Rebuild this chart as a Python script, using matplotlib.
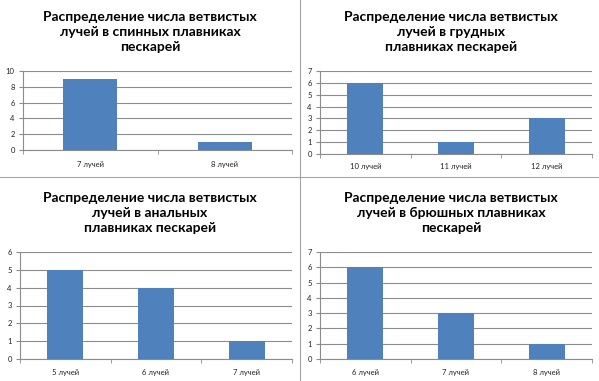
import matplotlib
matplotlib.use('Agg')
import matplotlib.pyplot as plt
import numpy as np

plt.rcParams['font.family'] = ['Lato', 'DejaVu Sans']

# data
title_top = 'Распределение числа ветвистых'
titles = [
    title_top + '\nлучей в спинных плавниках\nпескарей',
    title_top + '\nлучей в грудных\nплавниках пескарей',
    title_top + '\nлучей в анальных\nплавниках пескарей',
    title_top + '\nлучей в брюшных плавниках\nпескарей',
]
cats_dorsal = ['7 лучей', '8 лучей']
vals_dorsal = [9, 1]
cats_pectoral = ['10 лучей', '11 лучей', '12 лучей']
vals_pectoral = [6, 1, 3]
cats_anal = ['5 лучей', '6 лучей', '7 лучей']
vals_anal = [5, 4, 1]
cats_ventral = ['6 лучей', '7 лучей', '8 лучей']
vals_ventral = [6, 3, 1]

ymax = [10, 7, 6, 7]
ystep = [2, 1, 1, 1]

W, H = 599, 381
fig = plt.figure(figsize=(W / 100, H / 100), dpi=100)
fig.patch.set_facecolor('white')

def px_axes(left, right, top, bottom):
    return fig.add_axes([left / W, 1 - bottom / H, (right - left) / W, (bottom - top) / H])

# pixel boxes: left, right, top, bottom; title centre; category label y
layout = [
    ((23, 292, 71, 150), (150, 32), 164),
    ((320, 592, 71, 154), (451, 32), 167),
    ((20, 292, 252, 359), (150, 213), 373),
    ((320, 592, 252, 359), (451, 213), 373),
]
datasets = [(cats_dorsal, vals_dorsal), (cats_pectoral, vals_pectoral),
            (cats_anal, vals_anal), (cats_ventral, vals_ventral)]

bar_color = '#4F81BD'
grid_color = '#8C8C8C'

for i, ((cats, vals), (box, tpos, laby)) in enumerate(zip(datasets, layout)):
    ax = px_axes(*box)
    x = np.arange(len(cats))
    ax.bar(x, vals, width=0.4, color=bar_color, zorder=3)
    ax.set_xlim(-0.5, len(cats) - 0.5)
    ax.set_ylim(0, ymax[i])
    ax.set_yticks(np.arange(0, ymax[i] + 0.1, ystep[i]))
    ax.yaxis.grid(True, color=grid_color, lw=0.8)
    ax.set_axisbelow(True)
    for s in ['top', 'right']:
        ax.spines[s].set_visible(False)
    for s in ['left', 'bottom']:
        ax.spines[s].set_color(grid_color)
        ax.spines[s].set_linewidth(0.8)
    ax.tick_params(axis='y', length=3, color=grid_color, labelsize=5.5, pad=3, labelcolor='#222222')
    # category ticks sit between bars, like excel
    ax.set_xticks(x)
    ax.set_xticklabels([])
    ax.set_xticks(np.arange(-0.5, len(cats)), minor=True)
    ax.tick_params(axis='x', which='major', length=0)
    ax.tick_params(axis='x', which='minor', length=3, color=grid_color)
    x0, x1 = box[0], box[1]
    for xi, c in zip(x, cats):
        cx = x0 + (xi + 0.5) * (x1 - x0) / len(cats)
        fig.text(cx / W, 1 - laby / H, c, ha='center', va='center', fontsize=5.5, color='#222222')
    fig.text(tpos[0] / W, 1 - tpos[1] / H, titles[i], ha='center', va='center',
             fontsize=10, fontweight='bold', linespacing=1.3, color='black')

# panel dividers
fig.add_artist(plt.Line2D([299.5 / W, 299.5 / W], [0, 1], color='#A6A6A6', lw=0.8))
fig.add_artist(plt.Line2D([0, 1], [1 - 177 / H, 1 - 177 / H], color='#A6A6A6', lw=0.8))

fig.savefig('out.png', dpi=100)
